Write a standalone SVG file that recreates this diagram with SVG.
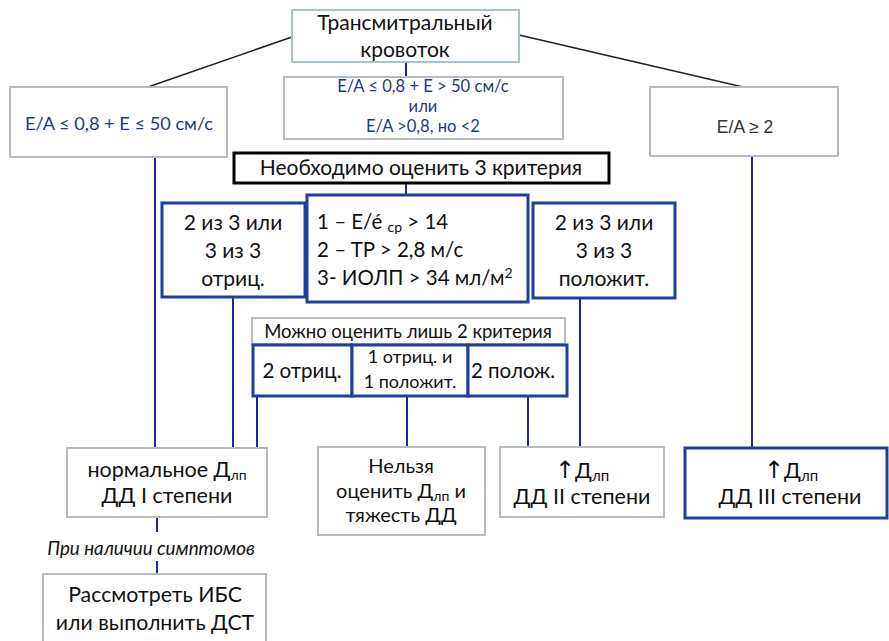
<svg xmlns="http://www.w3.org/2000/svg" width="889" height="641" viewBox="0 0 889 641">
<style>
text{font-family:Lato,"Open Sans","Liberation Sans",sans-serif;fill:#111;text-anchor:middle}
.gray{fill:#fff;stroke:#b4bcbc;stroke-width:2}
.top{fill:#fff;stroke:#a9c1c8;stroke-width:2}
.blue{fill:#fff;stroke:#1f3f9e;stroke-width:3}
.black{fill:#fff;stroke:#000;stroke-width:3}
.navy{fill:#1f3a78}
.bl{stroke:#2222a4;stroke-width:2;fill:none}
.kl{stroke:#222;stroke-width:1.6;fill:none}
.sub{font-size:14px}
.arr{font-family:"DejaVu Sans",sans-serif;font-size:24px}
</style>
<rect width="889" height="641" fill="#fff"/>
<g id="connectors">
<line class="kl" x1="292" y1="37" x2="148" y2="87"/>
<line class="kl" x1="519" y1="35" x2="743" y2="87"/>
<line class="bl" x1="406" y1="62" x2="406" y2="77"/>
<line class="bl" x1="406" y1="183" x2="406" y2="195"/>
<line class="bl" x1="155" y1="157" x2="155" y2="448"/>
<line class="bl" x1="752" y1="156" x2="752" y2="448"/>
<line class="bl" x1="233" y1="298" x2="233" y2="448"/>
<line class="bl" x1="580" y1="298" x2="580" y2="448"/>
<line class="bl" x1="257" y1="396" x2="257" y2="448"/>
<line class="bl" x1="407" y1="396" x2="407" y2="448"/>
<line class="bl" x1="528" y1="396" x2="528" y2="448"/>
<line class="bl" x1="157" y1="517" x2="157" y2="532"/>
<line class="bl" x1="157" y1="561" x2="157" y2="574"/>
</g>
<g id="n-top">
<rect class="top" x="292" y="10" width="227" height="52"/>
<text x="405" y="30" font-size="21">Трансмитральный</text>
<text x="405" y="57" font-size="21">кровоток</text>
</g>
<g id="n-left">
<rect class="gray" x="10" y="87" width="217" height="70"/>
<text class="navy" x="119" y="130" font-size="18.2">E/A ≤ 0,8 + E ≤ 50 см/с</text>
</g>
<g id="n-mid">
<rect class="gray" x="284" y="77" width="279" height="62"/>
<text class="navy" x="423" y="92" font-size="16.6">E/A ≤ 0,8 + E &gt; 50 см/с</text>
<text class="navy" x="423" y="112" font-size="16.6">или</text>
<text class="navy" x="423" y="132" font-size="16.6">E/A &gt;0,8, но &lt;2</text>
</g>
<g id="n-right">
<rect class="gray" x="650" y="87" width="188" height="69"/>
<text x="745" y="133" font-size="17.5" style="font-family:'Liberation Sans',Arial,sans-serif;fill:#333">E/A ≥ 2</text>
</g>
<g id="n-need3">
<rect class="black" x="234" y="153" width="375" height="30"/>
<text x="421" y="175" font-size="21">Необходимо оценить 3 критерия</text>
</g>
<g id="n-neg">
<rect class="blue" x="162" y="203" width="143" height="94"/>
<text x="233" y="230" font-size="21">2 из 3 или</text>
<text x="233" y="258" font-size="21">3 из 3</text>
<text x="233" y="286" font-size="21">отриц.</text>
</g>
<g id="n-criteria">
<rect class="blue" x="307" y="195" width="221" height="107"/>
<text x="317" y="229" font-size="20.5" style="text-anchor:start">1 – E/é <tspan class="sub" dy="3">ср</tspan><tspan dy="-3"> &gt; 14</tspan></text>
<text x="317" y="257" font-size="20.5" style="text-anchor:start">2 – TP &gt; 2,8 м/с</text>
<text x="317" y="285" font-size="20.5" style="text-anchor:start">3- ИОЛП &gt; 34 мл/м<tspan class="sub" dy="-7">2</tspan></text>
</g>
<g id="n-pos">
<rect class="blue" x="533" y="203" width="142" height="95"/>
<text x="604" y="230" font-size="21">2 из 3 или</text>
<text x="604" y="258" font-size="21">3 из 3</text>
<text x="604" y="286" font-size="21">положит.</text>
</g>
<g id="n-only2">
<rect class="gray" x="252" y="318" width="313" height="26"/>
<text x="408" y="338" font-size="18.5">Можно оценить лишь 2 критерия</text>
</g>
<g id="n-2neg">
<rect class="blue" x="253" y="345" width="99" height="51"/>
<text x="302" y="378" font-size="20.5">2 отриц.</text>
</g>
<g id="n-1and1">
<rect class="blue" x="352" y="345" width="116" height="51"/>
<text x="410" y="363" font-size="18">1 отриц. и</text>
<text x="410" y="388" font-size="18">1 положит.</text>
</g>
<g id="n-2pos">
<rect class="blue" x="468" y="345" width="99" height="51"/>
<text x="513" y="378" font-size="20.5">2 полож.</text>
</g>
<g id="n-normal">
<rect class="gray" x="67" y="448" width="200" height="69"/>
<text x="167" y="477" font-size="21.5">нормальное Д<tspan class="sub" font-size="15" dy="3">лп</tspan></text>
<text x="167" y="503" font-size="21.5">ДД I степени</text>
</g>
<g id="n-symptoms">
<text x="151" y="555" font-size="18.8" font-style="italic">При наличии симптомов</text>
</g>
<g id="n-ibs">
<rect class="gray" x="43" y="574" width="223" height="72"/>
<text x="155" y="602" font-size="21.3">Рассмотреть ИБС</text>
<text x="155" y="630" font-size="21.3">или выполнить ДСТ</text>
</g>
<g id="n-cannot">
<rect class="gray" x="318" y="447" width="167" height="88"/>
<text x="401" y="473" font-size="20">Нельзя</text>
<text x="401" y="497.5" font-size="20">оценить Д<tspan font-size="14" dy="3">лп</tspan><tspan dy="-3"> и</tspan></text>
<text x="401" y="522" font-size="20">тяжесть ДД</text>
</g>
<g id="n-dd2">
<rect class="gray" x="500" y="447" width="164" height="70"/>
<text x="582" y="478" font-size="21.5"><tspan class="arr">↑</tspan>Д<tspan font-size="15" dy="3">лп</tspan></text>
<text x="582" y="504" font-size="21.5">ДД II степени</text>
</g>
<g id="n-dd3">
<rect class="blue" x="685" y="448" width="202" height="70"/>
<text x="791" y="478" font-size="21.5"><tspan class="arr">↑</tspan>Д<tspan font-size="15" dy="3">лп</tspan></text>
<text x="790" y="504" font-size="21.5">ДД III степени</text>
</g>
</svg>
